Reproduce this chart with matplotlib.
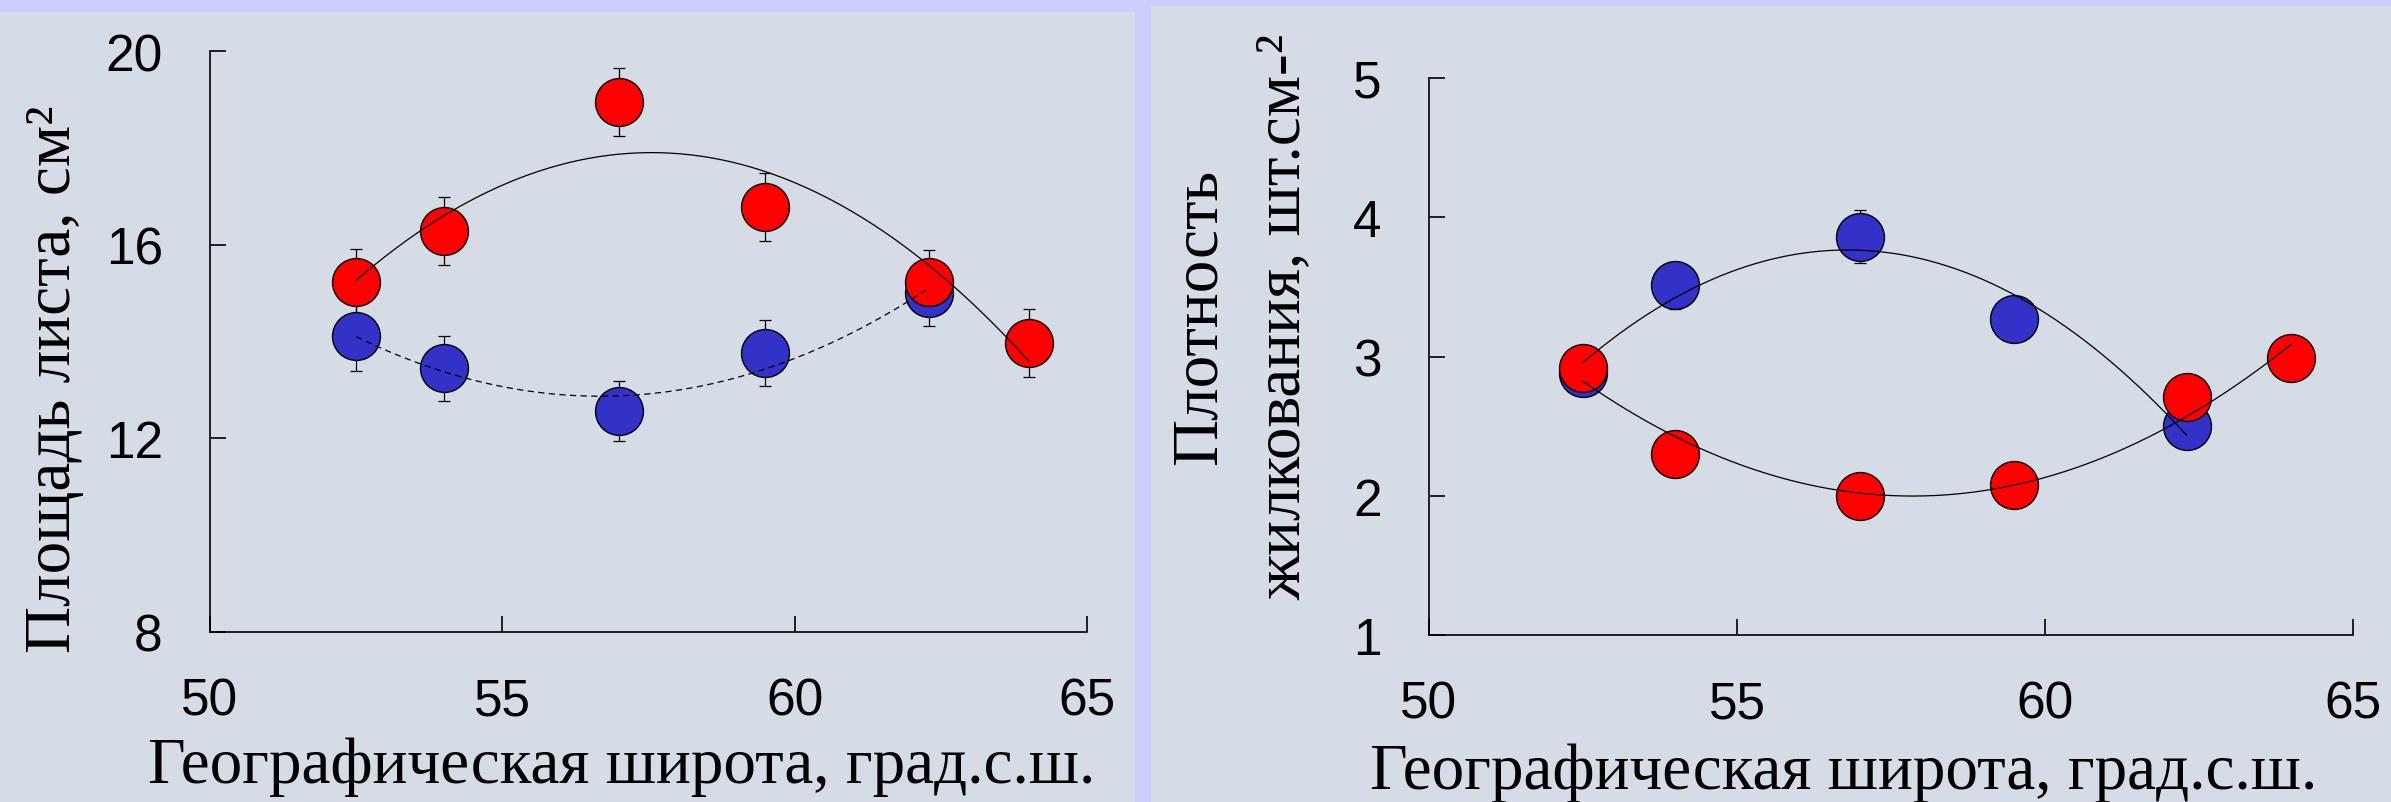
import numpy as np
import matplotlib
matplotlib.use("Agg")
import matplotlib.pyplot as plt
from matplotlib.patches import Rectangle

# Data
lat_red = [52.5, 54.0, 57.0, 59.5, 62.3, 64.0]
lat_blue = [52.5, 54.0, 57.0, 59.5, 62.3]

area_red = [15.22, 16.29, 18.94, 16.77, 15.22, 13.97]
area_red_err = [0.70, 0.70, 0.70, 0.70, 0.68, 0.70]
area_blue = [14.11, 13.45, 12.57, 13.76, 15.00]
area_blue_err = [0.72, 0.67, 0.62, 0.68, 0.69]

vein_red = [2.92, 2.30, 2.00, 2.08, 2.71, 2.99]
vein_red_err = [0.05, 0.05, 0.05, 0.05, 0.05, 0.05]
vein_blue = [2.88, 3.51, 3.86, 3.27, 2.50]
vein_blue_err = [0.10, 0.17, 0.19, 0.10, 0.10]

x_ticks = [50, 55, 60, 65]
area_ticks = [8, 12, 16, 20]
vein_ticks = [1, 2, 3, 4, 5]

W, H = 2391, 803
RED = "#ff0000"
BLUE = "#3232c8"
PANEL = "#d5dce6"

fig = plt.figure(figsize=(W / 100, H / 100), dpi=100, facecolor="#ccccff")

# background panels
fig.add_artist(Rectangle((0, 0), 1135 / W, (H - 13) / H, transform=fig.transFigure,
                         facecolor=PANEL, edgecolor="none", zorder=0))
fig.add_artist(Rectangle((1151 / W, 0), (W - 1151) / W, (H - 7) / H, transform=fig.transFigure,
                         facecolor=PANEL, edgecolor="none", zorder=0))


def px_box(x0, x1, ytop, ybot):
    return [x0 / W, 1 - ybot / H, (x1 - x0) / W, (ybot - ytop) / H]


def style_axes(ax, xlim, ylim, yticks):
    ax.set_facecolor("none")
    ax.set_xlim(*xlim)
    ax.set_ylim(*ylim)
    ax.set_xticks(x_ticks)
    ax.set_yticks(yticks)
    for s in ["top", "right"]:
        ax.spines[s].set_visible(False)
    for s in ["left", "bottom"]:
        ax.spines[s].set_linewidth(1.2)
    ax.tick_params(direction="in", length=11.5, width=1.2, labelsize=37)
    ax.tick_params(axis="y", pad=34)
    ax.tick_params(axis="x", pad=32)
    for lab in ax.get_xticklabels() + ax.get_yticklabels():
        lab.set_fontfamily("Liberation Sans")


def draw_series(ax, x, y, err, color, z):
    ax.errorbar(x, y, yerr=err, fmt="none", ecolor="black", elinewidth=0.9,
                capsize=4.3, capthick=0.9, zorder=2)
    ax.plot(x, y, "o", ms=34.5, mfc=color, mec="black", mew=1.0, ls="none", zorder=z)


def draw_trend(ax, x, y, deg, **kw):
    c = np.polyfit(x, y, deg)
    xs = np.linspace(min(x), max(x), 200)
    ax.plot(xs, np.polyval(c, xs), color="black", lw=0.9, zorder=6, **kw)


serif = "Liberation Serif"

# left: leaf area
ax1 = fig.add_axes(px_box(210, 1087, 52, 633))
style_axes(ax1, (50, 65), (8, 20), area_ticks)
draw_series(ax1, lat_blue, area_blue, area_blue_err, BLUE, 3)
draw_series(ax1, lat_red, area_red, area_red_err, RED, 4)
draw_trend(ax1, lat_red, area_red, 2)
draw_trend(ax1, lat_blue, area_blue, 2, dashes=(5, 3.5))

fig.text(622 / W, 1 - 783 / H, "Географическая широта, град.с.ш.", family=serif,
         fontsize=47, ha="center", va="baseline")
fig.text(54 / W, 1 - 379 / H, "Площадь листа, см²", family=serif, fontsize=47,
         rotation=90, ha="center", va="center")

# right: venation density
ax2 = fig.add_axes(px_box(1429, 2353, 79, 636))
style_axes(ax2, (50, 65), (1, 5), vein_ticks)
draw_series(ax2, lat_blue, vein_blue, vein_blue_err, BLUE, 3)
draw_series(ax2, lat_red, vein_red, vein_red_err, RED, 4)
draw_trend(ax2, lat_blue, vein_blue, 2)
draw_trend(ax2, lat_red, vein_red, 2)

fig.text(1844 / W, 1 - 789 / H, "Географическая широта, град.с.ш.", family=serif,
         fontsize=47, ha="center", va="baseline")
fig.text(1200 / W, 1 - 317 / H, "Плотность", family=serif, fontsize=47,
         rotation=90, ha="center", va="center")
fig.text(1284 / W, 1 - 317 / H, "жилкования, шт.см-²", family=serif, fontsize=47,
         rotation=90, ha="center", va="center")

fig.savefig("out.png", dpi=100, facecolor=fig.get_facecolor())
